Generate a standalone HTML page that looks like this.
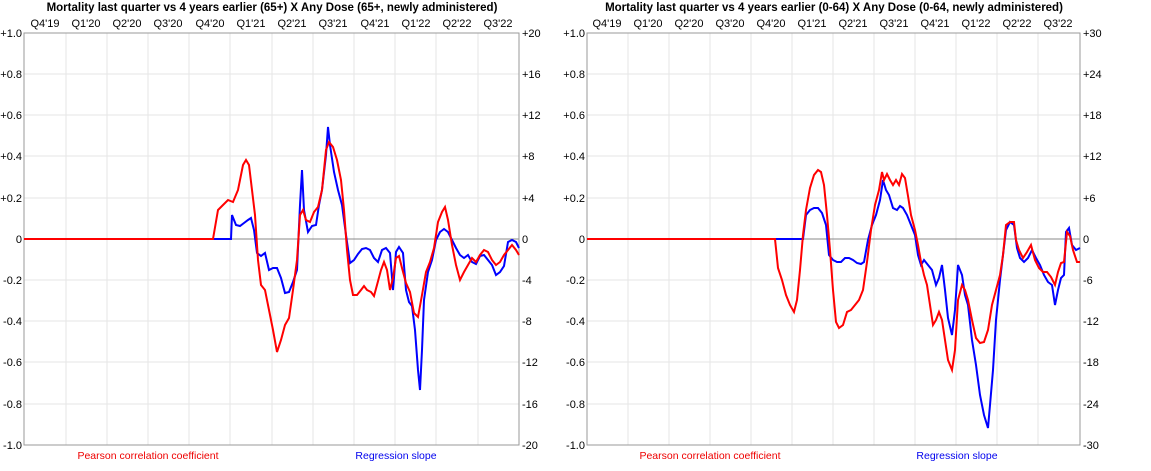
<!DOCTYPE html>
<html><head><meta charset="utf-8"><style>
body{margin:0;background:#fff;}
svg text{font-family:"Liberation Sans",Arial,sans-serif;font-size:11px;fill:#000;}
</style></head><body>
<svg width="1151" height="466" xmlns="http://www.w3.org/2000/svg">
<g id="L">
<text x="272" y="11" text-anchor="middle" style="font-size:11.5px;font-weight:bold">Mortality last quarter vs 4 years earlier (65+) X Any Dose (65+, newly administered)</text>
<g stroke="#e6e6e6" stroke-width="1">
<line x1="24" y1="74" x2="519" y2="74"/><line x1="24" y1="115" x2="519" y2="115"/><line x1="24" y1="156" x2="519" y2="156"/><line x1="24" y1="198" x2="519" y2="198"/><line x1="24" y1="280" x2="519" y2="280"/><line x1="24" y1="321" x2="519" y2="321"/><line x1="24" y1="362" x2="519" y2="362"/><line x1="24" y1="404" x2="519" y2="404"/>
<line x1="66" y1="33" x2="66" y2="445"/><line x1="107" y1="33" x2="107" y2="445"/><line x1="148" y1="33" x2="148" y2="445"/><line x1="189" y1="33" x2="189" y2="445"/><line x1="230" y1="33" x2="230" y2="445"/><line x1="272" y1="33" x2="272" y2="445"/><line x1="313" y1="33" x2="313" y2="445"/><line x1="354" y1="33" x2="354" y2="445"/><line x1="395" y1="33" x2="395" y2="445"/><line x1="436" y1="33" x2="436" y2="445"/><line x1="478" y1="33" x2="478" y2="445"/>
</g>
<line x1="24" y1="239" x2="519" y2="239" stroke="#888"/>
<rect x="24" y="33" width="495" height="412" fill="none" stroke="#999"/>
<g text-anchor="middle"><text x="45" y="27">Q4'19</text><text x="86" y="27">Q1'20</text><text x="127" y="27">Q2'20</text><text x="168" y="27">Q3'20</text><text x="210" y="27">Q4'20</text><text x="251" y="27">Q1'21</text><text x="292" y="27">Q2'21</text><text x="333" y="27">Q3'21</text><text x="375" y="27">Q4'21</text><text x="416" y="27">Q1'22</text><text x="457" y="27">Q2'22</text><text x="498" y="27">Q3'22</text></g>
<g text-anchor="end"><text x="22" y="37">+1.0</text><text x="22" y="78">+0.8</text><text x="22" y="119">+0.6</text><text x="22" y="160">+0.4</text><text x="22" y="202">+0.2</text><text x="22" y="243">0</text><text x="22" y="284">-0.2</text><text x="22" y="325">-0.4</text><text x="22" y="366">-0.6</text><text x="22" y="408">-0.8</text><text x="22" y="449">-1.0</text></g>
<g><text x="522" y="37">+20</text><text x="522" y="78">+16</text><text x="522" y="119">+12</text><text x="522" y="160">+8</text><text x="522" y="202">+4</text><text x="522" y="243">0</text><text x="522" y="284">-4</text><text x="522" y="325">-8</text><text x="522" y="366">-12</text><text x="522" y="408">-16</text><text x="522" y="449">-20</text></g>
<text x="148" y="459" text-anchor="middle" style="fill:#e00;font-size:10.5px">Pearson correlation coefficient</text>
<text x="396" y="459" text-anchor="middle" style="fill:#00e;font-size:10.5px">Regression slope</text>
<polyline fill="none" stroke="#00f" stroke-width="2" points="24,239 231,239 232,215 236,225 240,226 244,223 248,220 251,218 254,230 257,253 261,256 265,253 269,270 273,268 277,268 281,278 285,293 289,292 293,282 297,270 300,205 302,170 304,210 308,232 312,226 316,225 319,205 322,190 326,155 328,127 330,145 334,172 338,190 342,205 346,235 350,263 354,260 358,254 362,249 366,248 370,250 374,258 378,262 382,250 386,248 390,253 393,290 396,252 399,247 403,253 406,290 409,302 412,306 415,330 418,370 420,390 422,350 424,300 428,272 432,260 436,240 440,232 444,229 448,232 452,240 456,248 460,255 464,258 468,255 472,262 476,264 480,256 484,255 488,260 492,265 496,275 500,272 504,266 508,242 512,240 516,242 519,248"/>
<polyline fill="none" stroke="#f00" stroke-width="2" points="24,239 213,239 218,210 223,205 228,200 233,202 238,190 243,165 246,160 249,165 252,190 255,215 258,260 261,285 265,290 269,310 273,330 277,352 281,340 285,325 289,318 293,290 297,260 300,215 303,210 306,220 310,222 314,212 318,207 322,190 326,150 329,142 333,147 337,160 341,180 344,210 347,250 350,280 353,295 357,295 361,290 364,286 367,290 371,292 374,296 377,285 381,270 384,262 387,270 390,290 393,278 396,258 399,256 402,268 406,283 410,292 414,313 418,317 422,295 426,272 430,262 434,248 438,222 442,212 445,207 448,220 452,245 456,265 460,280 464,272 468,265 472,258 476,262 480,255 484,250 488,252 492,260 496,265 500,262 504,255 508,250 512,245 516,250 519,255"/>
</g>
<g id="R">
<text x="834" y="11" text-anchor="middle" style="font-size:11.5px;font-weight:bold">Mortality last quarter vs 4 years earlier (0-64) X Any Dose (0-64, newly administered)</text>
<g stroke="#e6e6e6" stroke-width="1">
<line x1="587" y1="74" x2="1080" y2="74"/><line x1="587" y1="115" x2="1080" y2="115"/><line x1="587" y1="156" x2="1080" y2="156"/><line x1="587" y1="198" x2="1080" y2="198"/><line x1="587" y1="280" x2="1080" y2="280"/><line x1="587" y1="321" x2="1080" y2="321"/><line x1="587" y1="362" x2="1080" y2="362"/><line x1="587" y1="404" x2="1080" y2="404"/>
<line x1="628" y1="33" x2="628" y2="445"/><line x1="669" y1="33" x2="669" y2="445"/><line x1="710" y1="33" x2="710" y2="445"/><line x1="751" y1="33" x2="751" y2="445"/><line x1="792" y1="33" x2="792" y2="445"/><line x1="833" y1="33" x2="833" y2="445"/><line x1="874" y1="33" x2="874" y2="445"/><line x1="915" y1="33" x2="915" y2="445"/><line x1="956" y1="33" x2="956" y2="445"/><line x1="997" y1="33" x2="997" y2="445"/><line x1="1038" y1="33" x2="1038" y2="445"/>
</g>
<line x1="587" y1="239" x2="1080" y2="239" stroke="#888"/>
<rect x="587" y="33" width="493" height="412" fill="none" stroke="#999"/>
<g text-anchor="middle"><text x="607" y="27">Q4'19</text><text x="648" y="27">Q1'20</text><text x="689" y="27">Q2'20</text><text x="730" y="27">Q3'20</text><text x="771" y="27">Q4'20</text><text x="812" y="27">Q1'21</text><text x="853" y="27">Q2'21</text><text x="894" y="27">Q3'21</text><text x="935" y="27">Q4'21</text><text x="976" y="27">Q1'22</text><text x="1017" y="27">Q2'22</text><text x="1058" y="27">Q3'22</text></g>
<g text-anchor="end"><text x="585" y="37">+1.0</text><text x="585" y="78">+0.8</text><text x="585" y="119">+0.6</text><text x="585" y="160">+0.4</text><text x="585" y="202">+0.2</text><text x="585" y="243">0</text><text x="585" y="284">-0.2</text><text x="585" y="325">-0.4</text><text x="585" y="366">-0.6</text><text x="585" y="408">-0.8</text><text x="585" y="449">-1.0</text></g>
<g><text x="1083" y="37">+30</text><text x="1083" y="78">+24</text><text x="1083" y="119">+18</text><text x="1083" y="160">+12</text><text x="1083" y="202">+6</text><text x="1083" y="243">0</text><text x="1083" y="284">-6</text><text x="1083" y="325">-12</text><text x="1083" y="366">-18</text><text x="1083" y="408">-24</text><text x="1083" y="449">-30</text></g>
<text x="710" y="459" text-anchor="middle" style="fill:#e00;font-size:10.5px">Pearson correlation coefficient</text>
<text x="957" y="459" text-anchor="middle" style="fill:#00e;font-size:10.5px">Regression slope</text>
<polyline fill="none" stroke="#00f" stroke-width="2" points="587,239 803,239 806,215 810,210 814,208 818,208 822,213 826,225 829,255 833,260 837,262 841,262 845,258 849,258 853,260 857,263 861,264 864,262 868,240 872,225 876,215 880,200 883,180 886,190 889,195 893,208 897,210 900,206 903,208 907,215 911,225 915,235 918,255 921,265 924,260 928,265 932,270 936,285 939,278 942,265 945,290 948,318 952,335 955,310 958,265 962,275 965,295 968,305 972,340 976,365 980,395 984,415 988,428 990,405 993,370 996,320 1000,280 1003,255 1006,230 1010,222 1014,225 1017,248 1020,258 1024,262 1028,258 1032,250 1036,258 1040,265 1044,275 1048,282 1052,285 1055,305 1058,290 1061,278 1064,275 1066,232 1069,228 1072,245 1076,250 1080,248"/>
<polyline fill="none" stroke="#f00" stroke-width="2" points="587,239 775,239 778,268 782,280 786,295 790,305 794,312 797,300 800,270 803,235 806,210 810,188 814,175 818,170 821,172 824,185 827,215 830,250 833,290 836,322 839,328 843,325 847,312 851,310 855,305 859,300 863,290 867,262 871,230 875,205 879,190 882,172 884,180 887,174 890,180 893,185 896,180 899,185 902,174 905,178 908,196 911,215 915,230 918,245 921,262 924,275 927,285 930,305 933,325 936,320 939,312 942,320 945,340 948,360 952,370 955,350 958,300 962,285 965,290 968,300 972,320 976,338 980,343 984,342 988,330 992,305 996,290 1000,275 1003,255 1006,225 1010,222 1014,222 1016,240 1019,250 1023,258 1027,252 1031,245 1035,260 1039,268 1043,272 1047,272 1051,277 1055,285 1058,272 1061,263 1064,262 1067,232 1070,236 1073,250 1077,262 1080,262"/>
</g>
</svg>
</body></html>
